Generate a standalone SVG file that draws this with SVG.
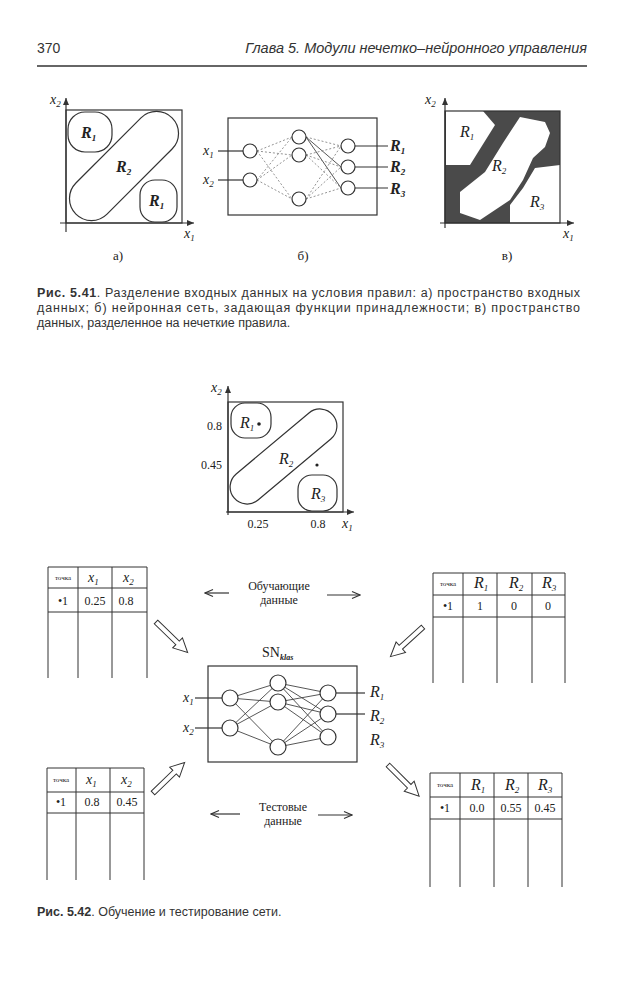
<svg xmlns="http://www.w3.org/2000/svg" width="635" height="990" viewBox="0 0 635 990">
<style>
.ln{stroke:#333;fill:none;stroke-width:1.2}
.node{fill:#fff;stroke:#333;stroke-width:1.2}
.ed{stroke:#444;stroke-width:0.9;fill:none}
.eb{stroke:#888;stroke-width:0.9;fill:none;stroke-dasharray:2 2}
.t{font-family:"Liberation Serif","Times New Roman",serif;fill:#222}
.s{font-family:"Liberation Sans",Arial,sans-serif;fill:#333}
.R{font-family:"Liberation Serif","Times New Roman",serif;font-style:italic;font-weight:bold;font-size:16px;fill:#222}
.Ri{font-family:"Liberation Serif","Times New Roman",serif;font-style:italic;font-size:16px;fill:#222}
.x{font-family:"Liberation Serif","Times New Roman",serif;font-style:italic;font-size:14px;fill:#222}
.sub{font-size:9px}
.tb{stroke:#333;stroke-width:1;fill:none}
.cell{font-family:"Liberation Serif","Times New Roman",serif;font-size:12px;fill:#222;text-anchor:middle}
.tk{font-family:"Liberation Serif","Times New Roman",serif;font-size:7px;fill:#222;text-anchor:middle}
.hol{fill:#fff;stroke:#333;stroke-width:1}
</style>
<defs>
<marker id="ah" markerWidth="8" markerHeight="8" refX="7" refY="4" orient="auto" markerUnits="userSpaceOnUse">
<path d="M0,1 L7,4 L0,7 Z" fill="#333"/>
</marker>
<marker id="la" markerWidth="10" markerHeight="8" refX="9" refY="4" orient="auto" markerUnits="userSpaceOnUse">
<path d="M1,0.5 L9,4 L1,7.5" fill="none" stroke="#333" stroke-width="1.1"/>
</marker>
<path id="hollow" d="M0,-2.5 L30,-2.5 L30,-7 L44,0 L30,7 L30,2.5 L0,2.5 Z"/>
</defs>

<!-- header -->
<g id="header">
<text class="s" x="37" y="53" font-size="14">370</text>
<text class="s" x="587" y="53" font-size="14.5" font-style="italic" text-anchor="end">Глава 5. Модули нечетко–нейронного управления</text>
<line x1="37" y1="66" x2="587" y2="66" stroke="#333" stroke-width="1.5"/>
</g>

<!-- Fig 5.41 a -->
<g id="fig-a">
<line class="ln" x1="66" y1="232" x2="66" y2="98" marker-end="url(#ah)"/>
<line class="ln" x1="60" y1="223" x2="194" y2="223" marker-end="url(#ah)"/>
<rect class="ln" x="66" y="110" width="116" height="113"/>
<text class="x" x="50" y="104">x<tspan class="sub" dy="3">2</tspan></text>
<text class="x" x="184" y="238">x<tspan class="sub" dy="3">1</tspan></text>
<rect class="ln" x="68" y="112" width="44" height="40" rx="17"/>
<rect class="ln" x="56" y="144" width="136" height="44" rx="22" transform="rotate(-45 124 166)"/>
<rect class="ln" x="140" y="180" width="37" height="42" rx="15"/>
<text class="R" x="81" y="138">R<tspan class="sub" dy="3">1</tspan></text>
<text class="R" x="116" y="172">R<tspan class="sub" dy="3">2</tspan></text>
<text class="R" x="149" y="206">R<tspan class="sub" dy="3">1</tspan></text>
<text class="t" x="118" y="260" font-size="13" text-anchor="middle">а)</text>
</g>

<!-- Fig 5.41 b -->
<g id="fig-b">
<rect class="ln" x="228" y="118" width="149" height="97"/>
<g>
<line class="eb" x1="257" y1="151" x2="292" y2="137"/>
<line class="eb" x1="257" y1="151" x2="292" y2="155"/>
<line class="eb" x1="257" y1="151" x2="292" y2="199"/>
<line class="eb" x1="257" y1="180" x2="292" y2="137"/>
<line class="eb" x1="257" y1="180" x2="292" y2="155"/>
<line class="eb" x1="257" y1="180" x2="292" y2="199"/>
<line class="eb" x1="306" y1="137" x2="341" y2="146"/>
<line class="ed" x1="306" y1="137" x2="341" y2="167"/>
<line class="ed" x1="306" y1="137" x2="341" y2="188"/>
<line class="eb" x1="306" y1="155" x2="341" y2="146"/>
<line class="eb" x1="306" y1="155" x2="341" y2="167"/>
<line class="eb" x1="306" y1="155" x2="341" y2="188"/>
<line class="eb" x1="306" y1="199" x2="341" y2="146"/>
<line class="eb" x1="306" y1="199" x2="341" y2="167"/>
<line class="eb" x1="306" y1="199" x2="341" y2="188"/>
</g>
<line class="ln" x1="218" y1="151" x2="243" y2="151"/>
<line class="ln" x1="218" y1="180" x2="243" y2="180"/>
<line class="ln" x1="355" y1="146" x2="388" y2="146"/>
<line class="ln" x1="355" y1="167" x2="388" y2="167"/>
<line class="ln" x1="355" y1="188" x2="388" y2="188"/>
<circle class="node" cx="250" cy="151" r="7"/>
<circle class="node" cx="250" cy="180" r="7"/>
<circle class="node" cx="299" cy="137" r="7"/>
<circle class="node" cx="299" cy="155" r="7"/>
<circle class="node" cx="299" cy="199" r="7"/>
<circle class="node" cx="348" cy="146" r="7"/>
<circle class="node" cx="348" cy="167" r="7"/>
<circle class="node" cx="348" cy="188" r="7"/>
<text class="x" x="203" y="155" font-size="13">x<tspan class="sub" dy="3">1</tspan></text>
<text class="x" x="203" y="184" font-size="13">x<tspan class="sub" dy="3">2</tspan></text>
<text class="R" x="390" y="151">R<tspan class="sub" dy="3">1</tspan></text>
<text class="R" x="390" y="172">R<tspan class="sub" dy="3">2</tspan></text>
<text class="R" x="390" y="194">R<tspan class="sub" dy="3">3</tspan></text>
<text class="t" x="303" y="260" font-size="13" text-anchor="middle">б)</text>
</g>

<!-- Fig 5.41 c -->
<g id="fig-c">
<rect x="445" y="111" width="115" height="112" fill="#4a4a4a"/>
<polygon fill="#fff" points="446,111 483,111 495,125 470,165 446,165"/>
<polygon fill="#fff" points="520,117 545,122 550,133 545,147 533,158 523,180 510,200 480,220 460,213 460,192 485,172 503,143"/>
<polygon fill="#fff" points="535,168 560,165 560,223 510,223 510,205 523,188"/>
<rect class="ln" x="445" y="111" width="115" height="112" stroke-width="1"/>
<line class="ln" x1="445" y1="228" x2="445" y2="98" marker-end="url(#ah)"/>
<line class="ln" x1="440" y1="223" x2="574" y2="223" marker-end="url(#ah)"/>
<text class="x" x="425" y="104">x<tspan class="sub" dy="3">2</tspan></text>
<text class="x" x="563" y="238">x<tspan class="sub" dy="3">1</tspan></text>
<text class="Ri" x="460" y="137">R<tspan class="sub" dy="3">1</tspan></text>
<text class="Ri" x="492" y="171">R<tspan class="sub" dy="3">2</tspan></text>
<text class="Ri" x="530" y="207">R<tspan class="sub" dy="3">3</tspan></text>
<text class="t" x="507" y="260" font-size="13" text-anchor="middle">в)</text>
</g>

<!-- caption 5.41 -->
<g id="caption-541" class="s" font-size="12.5">
<text x="37" y="297" textLength="543" lengthAdjust="spacing"><tspan font-weight="bold">Рис. 5.41</tspan>. Разделение входных данных на условия правил: а) пространство входных</text>
<text x="37" y="312" textLength="543" lengthAdjust="spacing">данных; б) нейронная сеть, задающая функции принадлежности; в) пространство</text>
<text x="37" y="327">данных, разделенное на нечеткие правила.</text>
</g>

<!-- Fig 5.42 plot -->
<g id="plot">
<line class="ln" x1="228" y1="515" x2="228" y2="386" marker-end="url(#ah)"/>
<line class="ln" x1="226" y1="512" x2="354" y2="512" marker-end="url(#ah)"/>
<rect class="ln" x="228" y="402" width="115" height="110"/>
<rect class="ln" x="231" y="403" width="40" height="35" rx="14"/>
<rect class="ln" x="219" y="439.5" width="129" height="34" rx="17" transform="rotate(-40 283.5 456.5)"/>
<rect class="ln" x="298" y="475" width="39" height="36" rx="14"/>
<text class="Ri" x="240" y="428">R<tspan class="sub" dy="3">1</tspan></text>
<circle cx="259" cy="424" r="1.8" fill="#222"/>
<text class="Ri" x="279" y="464">R<tspan class="sub" dy="3">2</tspan></text>
<circle cx="317" cy="465" r="1.6" fill="#222"/>
<text class="Ri" x="311" y="499">R<tspan class="sub" dy="3">3</tspan></text>
<text class="x" x="211" y="392">x<tspan class="sub" dy="3">2</tspan></text>
<text class="x" x="342" y="528">x<tspan class="sub" dy="3">1</tspan></text>
<text class="t" x="222" y="430" font-size="12" text-anchor="end">0.8</text>
<text class="t" x="222" y="469" font-size="12" text-anchor="end">0.45</text>
<text class="t" x="258" y="528" font-size="12" text-anchor="middle">0.25</text>
<text class="t" x="318" y="528" font-size="12" text-anchor="middle">0.8</text>
</g>

<!-- table top-left -->
<g id="table-train-in">
<path class="tb" d="M48,567 H147 M48,588 H147 M48,612 H147 M48,567 V678 M78,567 V678 M112,567 V678 M147,567 V678"/>
<text class="tk" x="63" y="580">точка</text>
<text class="x" x="88" y="582">x<tspan class="sub" dy="3">1</tspan></text>
<text class="x" x="123" y="582">x<tspan class="sub" dy="3">2</tspan></text>
<text class="cell" x="63" y="605">•1</text>
<text class="cell" x="95" y="605">0.25</text>
<text class="cell" x="126" y="605">0.8</text>
</g>

<!-- table top-right -->
<g id="table-train-out">
<path class="tb" d="M433,573 H565 M433,595 H565 M433,617 H565 M433,573 V683 M463,573 V683 M497,573 V683 M532,573 V683 M565,573 V683"/>
<text class="tk" x="448" y="586">точка</text>
<text class="Ri" x="474" y="588">R<tspan class="sub" dy="3">1</tspan></text>
<text class="Ri" x="509" y="588">R<tspan class="sub" dy="3">2</tspan></text>
<text class="Ri" x="542" y="588">R<tspan class="sub" dy="3">3</tspan></text>
<text class="cell" x="448" y="610">•1</text>
<text class="cell" x="480" y="610">1</text>
<text class="cell" x="514" y="610">0</text>
<text class="cell" x="548" y="610">0</text>
</g>

<!-- table bottom-left -->
<g id="table-test-in">
<path class="tb" d="M47,768 H144 M47,792 H144 M47,813 H144 M47,768 V880 M76,768 V880 M110,768 V880 M144,768 V880"/>
<text class="tk" x="61" y="782">точка</text>
<text class="x" x="86" y="784">x<tspan class="sub" dy="3">1</tspan></text>
<text class="x" x="121" y="784">x<tspan class="sub" dy="3">2</tspan></text>
<text class="cell" x="61" y="806">•1</text>
<text class="cell" x="92" y="806">0.8</text>
<text class="cell" x="127" y="806">0.45</text>
</g>

<!-- table bottom-right -->
<g id="table-test-out">
<path class="tb" d="M430,773 H562 M430,797 H562 M430,819 H562 M430,773 V887 M460,773 V887 M494,773 V887 M528,773 V887 M562,773 V887"/>
<text class="tk" x="445" y="787">точка</text>
<text class="Ri" x="471" y="790">R<tspan class="sub" dy="3">1</tspan></text>
<text class="Ri" x="505" y="790">R<tspan class="sub" dy="3">2</tspan></text>
<text class="Ri" x="538" y="790">R<tspan class="sub" dy="3">3</tspan></text>
<text class="cell" x="445" y="812">•1</text>
<text class="cell" x="477" y="812">0.0</text>
<text class="cell" x="511" y="812">0.55</text>
<text class="cell" x="545" y="812">0.45</text>
</g>

<!-- network SN_klas -->
<g id="network">
<text class="t" x="262" y="657" font-size="14">SN<tspan font-size="8" font-style="italic" font-weight="bold" dy="3">klas</tspan></text>
<rect class="ln" x="208" y="666" width="149" height="96"/>
<g>
<line class="ed" x1="230" y1="698" x2="278" y2="683"/>
<line class="ed" x1="230" y1="698" x2="278" y2="702"/>
<line class="ed" x1="230" y1="698" x2="278" y2="747"/>
<line class="ed" x1="230" y1="728" x2="278" y2="683"/>
<line class="ed" x1="230" y1="728" x2="278" y2="702"/>
<line class="ed" x1="230" y1="728" x2="278" y2="747"/>
<line class="ed" x1="278" y1="683" x2="328" y2="693"/>
<line class="ed" x1="278" y1="683" x2="328" y2="714"/>
<line class="ed" x1="278" y1="683" x2="328" y2="737"/>
<line class="ed" x1="278" y1="702" x2="328" y2="693"/>
<line class="ed" x1="278" y1="702" x2="328" y2="714"/>
<line class="ed" x1="278" y1="702" x2="328" y2="737"/>
<line class="ed" x1="278" y1="747" x2="328" y2="693"/>
<line class="ed" x1="278" y1="747" x2="328" y2="714"/>
<line class="ed" x1="278" y1="747" x2="328" y2="737"/>
</g>
<line class="ln" x1="195" y1="698" x2="222" y2="698"/>
<line class="ln" x1="195" y1="728" x2="222" y2="728"/>
<line class="ln" x1="336" y1="693" x2="365" y2="693"/>
<line class="ln" x1="336" y1="714" x2="365" y2="714"/>
<circle class="node" cx="230" cy="698" r="8"/>
<circle class="node" cx="230" cy="728" r="8"/>
<circle class="node" cx="278" cy="683" r="8"/>
<circle class="node" cx="278" cy="702" r="8"/>
<circle class="node" cx="278" cy="747" r="8"/>
<circle class="node" cx="328" cy="693" r="8"/>
<circle class="node" cx="328" cy="714" r="8"/>
<circle class="node" cx="328" cy="737" r="8"/>
<text class="x" x="183" y="702" font-size="13">x<tspan class="sub" dy="3">1</tspan></text>
<text class="x" x="183" y="732" font-size="13">x<tspan class="sub" dy="3">2</tspan></text>
<text class="Ri" x="370" y="697">R<tspan class="sub" dy="3">1</tspan></text>
<text class="Ri" x="370" y="721">R<tspan class="sub" dy="3">2</tspan></text>
<text class="Ri" x="370" y="745">R<tspan class="sub" dy="3">3</tspan></text>
</g>

<!-- data labels -->
<g id="label-train">
<text class="t" x="279" y="590" font-size="12" text-anchor="middle">Обучающие</text>
<text class="t" x="279" y="604" font-size="12" text-anchor="middle">данные</text>
</g>
<g id="label-test">
<text class="t" x="283" y="811" font-size="12" text-anchor="middle">Тестовые</text>
<text class="t" x="283" y="825" font-size="12" text-anchor="middle">данные</text>
</g>

<!-- connectors -->
<g id="connectors">
<line class="ln" x1="229" y1="593" x2="205" y2="593" marker-end="url(#la)"/>
<line class="ln" x1="327" y1="595" x2="360" y2="595" marker-end="url(#la)"/>
<line class="ln" x1="240" y1="814" x2="211" y2="814" marker-end="url(#la)"/>
<line class="ln" x1="318" y1="815" x2="352" y2="815" marker-end="url(#la)"/>
<use href="#hollow" class="hol" transform="translate(156,622) rotate(44)"/>
<use href="#hollow" class="hol" transform="translate(423,627) rotate(137.7)"/>
<use href="#hollow" class="hol" transform="translate(153,793) rotate(-44)"/>
<use href="#hollow" class="hol" transform="translate(388,765) rotate(45)"/>
</g>

<!-- caption 5.42 -->
<g id="caption-542" class="s" font-size="12.5">
<text x="37" y="916"><tspan font-weight="bold">Рис. 5.42</tspan>. Обучение и тестирование сети.</text>
</g>
</svg>
